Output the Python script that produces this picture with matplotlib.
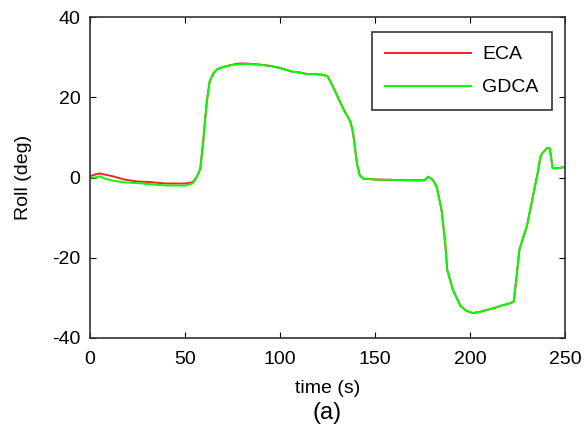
import matplotlib.pyplot as plt

plt.rcParams['font.family'] = ['Liberation Sans', 'DejaVu Sans']
plt.rcParams['axes.unicode_minus'] = False

# time samples (s)
time_s = [0, 3, 5, 8, 12, 18, 25, 30, 40, 50,
          54, 56, 58, 59.5, 60.5, 61.5, 63, 65, 67, 70,
          74, 78, 82, 88, 95, 100, 107, 110, 114, 118,
          122, 125, 128, 131.5, 134, 137, 138.5, 140.5, 142, 144,
          150, 160, 170, 176, 178, 180.5, 182.5, 185, 187, 188,
          191, 195, 198, 201.5, 205, 209, 213, 216, 220, 223,
          224.5, 226, 230, 233, 236, 237, 238, 240.5, 242, 243.5,
          246, 250]

# roll estimates (deg)
gdca = [0, 0, 0.3, -0.3, -0.8, -1.2, -1.4, -1.6, -2, -2,
        -1.5, 0, 2, 8.5, 14, 19, 24, 26, 27, 27.5,
        28, 28.2, 28.3, 28.2, 27.8, 27.3, 26.3, 26.2, 25.8, 25.8,
        25.6, 25.3, 22.5, 19, 16.5, 14, 11, 3.5, 0.5, -0.3,
        -0.5, -0.6, -0.7, -0.7, 0.2, -0.6, -2.4, -8, -16.5, -23,
        -28, -32, -33.2, -33.8, -33.5, -33, -32.5, -32, -31.5, -31,
        -24.8, -18, -12, -5, 2, 5, 6, 7.3, 7.3, 2.3,
        2.3, 2.6]

eca = [0.3, 0.8, 1, 0.7, 0.3, -0.5, -1, -1.1, -1.5, -1.5,
       -1.2, 0, 2, 8.5, 14, 19, 24, 26, 27, 27.5,
       28, 28.4, 28.4, 28.2, 27.8, 27.3, 26.3, 26.2, 25.8, 25.8,
       25.6, 25.3, 22.5, 19, 16.5, 14, 11, 3.5, 0.5, -0.3,
       -0.5, -0.6, -0.7, -0.7, 0.2, -0.6, -2.4, -8, -16.5, -23,
       -28, -32, -33.2, -33.8, -33.5, -33, -32.5, -32, -31.5, -31,
       -24.8, -18, -12, -5, 2, 5, 6, 7.3, 7.3, 2.3,
       2.3, 2.6]

fig = plt.figure(figsize=(5.84, 4.33), dpi=100)
ax = fig.add_subplot(111)
fig.subplots_adjust(left=90 / 584, right=565 / 584, top=1 - 17 / 433, bottom=1 - 338 / 433)

ax.plot(time_s, eca, color='#ff2020', lw=1.4, label='ECA')
ax.plot(time_s, gdca, color='#00ff00', lw=1.4, label='GDCA')

ax.set_xlim(0, 250)
ax.set_ylim(-40, 40)
ax.set_xticks([0, 50, 100, 150, 200, 250])
ax.set_yticks([-40, -20, 0, 20, 40])
ax.tick_params(direction='in', top=True, right=True, length=4, labelsize=14)
ax.tick_params(axis='y', pad=7)
ax.tick_params(axis='x', pad=9)
for s in ax.spines.values():
    s.set_linewidth(1.2)
    s.set_color('#333333')

ax.set_xlabel('time (s)', fontsize=14, labelpad=9)
ax.set_ylabel('Roll (deg)', fontsize=14, labelpad=14)

leg = ax.legend(loc='upper right', fontsize=14, frameon=True, fancybox=False,
                edgecolor='black', handlelength=4.4, handletextpad=0.57,
                labelspacing=0.8, borderpad=0.7, borderaxespad=0,
                bbox_to_anchor=(0.9726, 0.953))
leg.get_frame().set_linewidth(1.2)

fig.text(327 / 584, 1 - 413 / 433, '(a)', fontsize=17, ha='center', va='center')

fig.savefig('out.png', dpi=100)
